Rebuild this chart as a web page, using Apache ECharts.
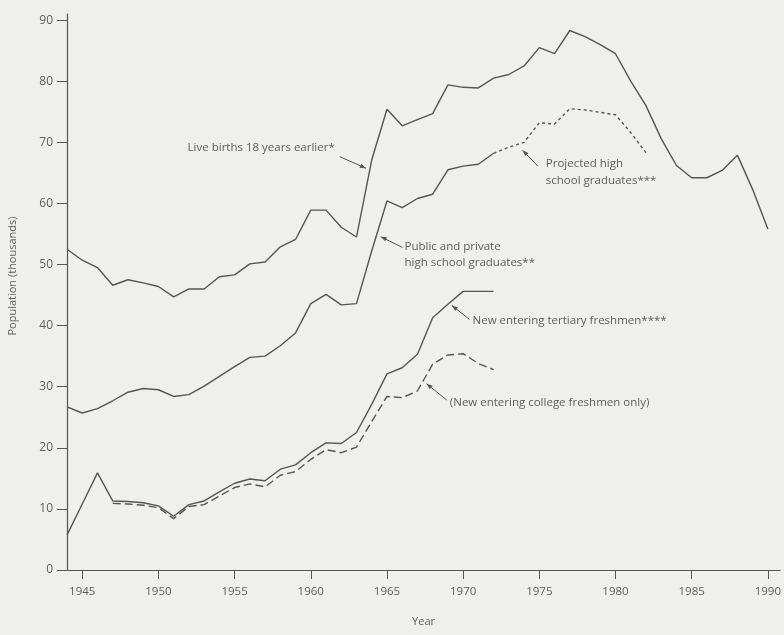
<!DOCTYPE html>
<html><head><meta charset="utf-8">
<script src="https://cdn.jsdelivr.net/npm/echarts@6/dist/echarts.min.js"></script>
<style>html,body{margin:0;padding:0;background:#efefed;}#c{width:784px;height:635px;}</style>
</head><body><div id="c"></div>
<script>
// ---- data (thousands) ----
const birthYears = [1944,1945,1946,1947,1948,1949,1950,1951,1952,1953,1954,1955,1956,1957,1958,1959,1960,1961,1962,1963,1964,1965,1966,1967,1968,1969,1970,1971,1972,1973,1974,1975,1976,1977,1978,1979,1980,1981,1982,1983,1984,1985,1986,1987,1988,1989,1990];
const birthValues = [52.5,50.7,49.5,46.6,47.5,47.0,46.4,44.7,46.0,46.0,48.0,48.3,50.1,50.4,52.9,54.1,58.9,58.9,56.1,54.5,67.1,75.4,72.7,73.7,74.7,79.4,79.0,78.9,80.5,81.1,82.5,85.5,84.5,88.3,87.3,86.0,84.5,80.0,76.0,70.6,66.2,64.2,64.2,65.4,67.9,62.3,55.8];

const gradYears = [1944,1945,1946,1947,1948,1949,1950,1951,1952,1953,1954,1955,1956,1957,1958,1959,1960,1961,1962,1963,1964,1965,1966,1967,1968,1969,1970,1971,1972];
const gradValues = [26.7,25.7,26.4,27.7,29.1,29.7,29.5,28.4,28.7,30.1,31.7,33.3,34.8,35.0,36.7,38.8,43.6,45.1,43.4,43.6,52.2,60.4,59.3,60.8,61.5,65.5,66.1,66.4,68.2];

const projYears = [1972,1973,1974,1975,1976,1977,1978,1979,1980,1981,1982];
const projValues = [68.2,69.2,70.0,73.2,73.0,75.5,75.3,74.9,74.5,71.6,68.3];

const tertYears = [1944,1945,1946,1947,1948,1949,1950,1951,1952,1953,1954,1955,1956,1957,1958,1959,1960,1961,1962,1963,1964,1965,1966,1967,1968,1969,1970,1971,1972];
const tertValues = [5.7,10.8,15.9,11.3,11.2,11.0,10.5,8.8,10.7,11.3,12.8,14.2,14.9,14.6,16.5,17.2,19.2,20.8,20.7,22.5,27.1,32.1,33.1,35.3,41.3,43.5,45.6,45.6,45.6];

const collYears = [1947,1948,1949,1950,1951,1952,1953,1954,1955,1956,1957,1958,1959,1960,1961,1962,1963,1964,1965,1966,1967,1968,1969,1970,1971,1972];
const collValues = [10.9,10.8,10.6,10.2,8.4,10.4,10.7,12.1,13.5,14.1,13.6,15.5,16.1,18.1,19.7,19.2,20.1,24.3,28.4,28.2,29.3,33.7,35.2,35.4,33.8,32.8];

const xTicks = [1945,1950,1955,1960,1965,1970,1975,1980,1985,1990];
const yTicks = [0,10,20,30,40,50,60,70,80,90];

// annotations: arrow head / tail in data coords, text lines
const notes = [
  {head:[1963.62,65.75], tail:[1961.9,67.65], lines:['Live births 18 years earlier*'], align:'right', dx:-5, dy:-9},
  {head:[1964.59,54.55], tail:[1966.02,52.8], lines:['Public and private','high school graduates**'], align:'left', dx:2, dy:-1},
  {head:[1973.9,68.7], tail:[1974.9,66.1], lines:['Projected high','school graduates***'], align:'left', dx:8, dy:-2},
  {head:[1969.26,43.3], tail:[1970.42,41.0], lines:['New entering tertiary freshmen****'], align:'left', dx:3, dy:1},
  {head:[1967.6,30.5], tail:[1968.93,27.8], lines:['(New entering college freshmen only)'], align:'left', dx:3, dy:3}
];

const INK = '#555555';
const TXT = '#5e5e5e';
const FONT = '"Open Sans", Lato, sans-serif';
const pairs = (xs, ys) => xs.map((x, i) => [x, ys[i]]);

const chart = echarts.init(document.getElementById('c'), null, {renderer:'canvas'});
const lineSeries = (name, xs, ys, type) => ({
  name, type:'line', data: pairs(xs, ys), symbol:'none', animation:false,
  lineStyle:{color:INK, width:1.4, type: type || 'solid'}, z:3
});

chart.setOption({
  backgroundColor:'#efefed',
  animation:false,
  grid:{left:67, right:3, top:14, bottom:65},
  xAxis:{
    type:'value', min:1944, max:1990.8,
    name:'Year', nameLocation:'middle', nameGap:46,
    nameTextStyle:{color:TXT, fontFamily:FONT, fontSize:11},
    axisLine:{show:true, lineStyle:{color:INK, width:1.2}},
    axisTick:{show:true, length:9, customValues:xTicks, lineStyle:{color:INK}},
    axisLabel:{customValues:xTicks, formatter: v => String(v), color:TXT, fontFamily:FONT, fontSize:11.5, margin:16},
    splitLine:{show:false}
  },
  yAxis:{
    type:'value', min:0, max:91,
    axisLine:{show:true, lineStyle:{color:INK, width:1.2}},
    axisTick:{show:true, length:10, customValues:yTicks, lineStyle:{color:INK}},
    axisLabel:{customValues:yTicks, formatter: v => String(v), color:TXT, fontFamily:FONT, fontSize:12, margin:14},
    splitLine:{show:false}
  },
  series:[
    lineSeries('Live births 18 years earlier', birthYears, birthValues),
    lineSeries('Public and private high school graduates', gradYears, gradValues),
    lineSeries('Projected high school graduates', projYears, projValues, [3,3]),
    lineSeries('New entering tertiary freshmen', tertYears, tertValues),
    lineSeries('New entering college freshmen only', collYears, collValues, [8,4])
  ]
});

const g = [];
g.push({type:'text', x:13, y:276, rotation:Math.PI/2, style:{text:'Population (thousands)', fill:TXT, font:'11px '+FONT, textAlign:'center', textVerticalAlign:'middle'}});
notes.forEach(n => {
  const h = chart.convertToPixel({gridIndex:0}, n.head);
  const t = chart.convertToPixel({gridIndex:0}, n.tail);
  g.push({type:'line', shape:{x1:t[0], y1:t[1], x2:h[0], y2:h[1]}, style:{stroke:INK, lineWidth:1}});
  const ang = Math.atan2(h[1]-t[1], h[0]-t[0]);
  const L = 6, W = 2.2;
  const bx = h[0] - L*Math.cos(ang), by = h[1] - L*Math.sin(ang);
  const px = -Math.sin(ang), py = Math.cos(ang);
  g.push({type:'polygon', shape:{points:[[h[0],h[1]],[bx+px*W,by+py*W],[bx-px*W,by-py*W]]}, style:{fill:INK}});
  n.lines.forEach((s, i) => {
    g.push({type:'text', x:t[0]+n.dx, y:t[1]+n.dy+i*16.5,
      style:{text:s, fill:TXT, font:'11.5px '+FONT, textAlign:n.align, textVerticalAlign:'middle'}});
  });
});
chart.setOption({graphic:g});
</script>
</body></html>
